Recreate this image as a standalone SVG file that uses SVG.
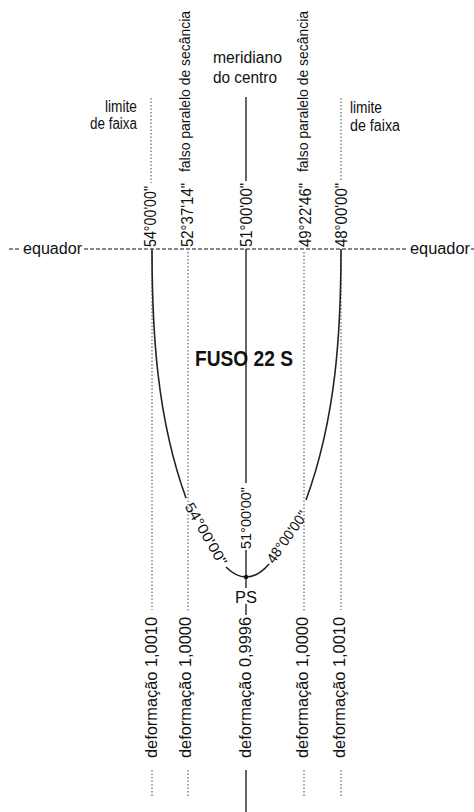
<svg xmlns="http://www.w3.org/2000/svg" width="474" height="812" viewBox="0 0 474 812">
<style>
text{font-family:"Liberation Sans",Arial,sans-serif;fill:#111}
.t{font-size:16px}
.v{font-size:16px}
.sm{font-size:14.5px}
.solid{stroke:#111;stroke-width:1.3;fill:none}
.dot{stroke:#444;stroke-width:1;stroke-dasharray:1.5 2;fill:none}
.dash{stroke:#111;stroke-width:1;stroke-dasharray:4 2;fill:none}
.curve{stroke:#222;stroke-width:1.6;fill:none}
</style>
<rect width="474" height="812" fill="#fff"/>
<g id="connectors">
  <line class="dash" x1="9" y1="249" x2="21" y2="249"/>
  <line class="dash" x1="84" y1="249" x2="407" y2="249"/>
  <line class="dash" x1="471" y1="249" x2="474" y2="249"/>
  <line class="dot" x1="151" y1="98" x2="151" y2="183"/>
  <line class="dot" x1="341" y1="98" x2="341" y2="180"/>
  <line class="solid" x1="246" y1="97" x2="246" y2="181"/>
  <line class="dot" x1="152" y1="252" x2="152" y2="610"/>
  <line class="dot" x1="188" y1="252" x2="188" y2="612"/>
  <line class="dot" x1="304" y1="252" x2="304" y2="612"/>
  <line class="dot" x1="341" y1="252" x2="341" y2="610"/>
  <line class="solid" x1="246" y1="249" x2="246" y2="483"/>
  <line class="solid" x1="246" y1="550" x2="246" y2="588"/>
  <line class="solid" x1="246" y1="604" x2="246" y2="615"/>
  <line class="dot" x1="152" y1="770" x2="152" y2="798"/>
  <line class="dot" x1="188" y1="770" x2="188" y2="798"/>
  <line class="dot" x1="304" y1="770" x2="304" y2="798"/>
  <line class="dot" x1="341" y1="770" x2="341" y2="798"/>
  <line class="solid" x1="246" y1="770" x2="246" y2="812"/>
  <path class="curve" d="M152,249 C152,330 156.6,417 186,498"/>
  <path class="curve" d="M226,567 Q236,577 246,577 Q258,577 269,564"/>
  <path class="curve" d="M341,249 C341,330 336.4,417 306,500"/>
  <circle cx="246" cy="577" r="2.2" fill="#111"/>
</g>
<g id="equador-left"><text class="t" x="23" y="254" textLength="59" lengthAdjust="spacingAndGlyphs">equador</text></g>
<g id="equador-right"><text class="t" x="410" y="254" textLength="60" lengthAdjust="spacingAndGlyphs">equador</text></g>
<g id="limite-left">
  <text class="t" x="137" y="112" text-anchor="end" textLength="32" lengthAdjust="spacingAndGlyphs">limite</text>
  <text class="t" x="137" y="129" text-anchor="end" textLength="47" lengthAdjust="spacingAndGlyphs">de faixa</text>
</g>
<g id="limite-right">
  <text class="t" x="350" y="113" textLength="32" lengthAdjust="spacingAndGlyphs">limite</text>
  <text class="t" x="350" y="131" textLength="50" lengthAdjust="spacingAndGlyphs">de faixa</text>
</g>
<g id="meridiano">
  <text class="t" x="213" y="63" textLength="69" lengthAdjust="spacingAndGlyphs">meridiano</text>
  <text class="t" x="213" y="83" textLength="64" lengthAdjust="spacingAndGlyphs">do centro</text>
</g>
<g id="secancia-left"><text class="sm" transform="translate(190,172) rotate(-90)" textLength="161" lengthAdjust="spacingAndGlyphs">falso paralelo de secância</text></g>
<g id="secancia-right"><text class="sm" transform="translate(308,172) rotate(-90)" textLength="161" lengthAdjust="spacingAndGlyphs">falso paralelo de secância</text></g>
<g id="lon-54"><text class="v" transform="translate(156,247) rotate(-90)" textLength="61" lengthAdjust="spacingAndGlyphs">54°00'00"</text></g>
<g id="lon-52"><text class="v" transform="translate(193,247) rotate(-90)" textLength="64" lengthAdjust="spacingAndGlyphs">52°37'14"</text></g>
<g id="lon-51"><text class="v" transform="translate(252,247) rotate(-90)" textLength="64" lengthAdjust="spacingAndGlyphs">51°00'00"</text></g>
<g id="lon-49"><text class="v" transform="translate(311,247) rotate(-90)" textLength="64" lengthAdjust="spacingAndGlyphs">49°22'46"</text></g>
<g id="lon-48"><text class="v" transform="translate(347,247) rotate(-90)" textLength="64" lengthAdjust="spacingAndGlyphs">48°00'00"</text></g>
<g id="fuso"><text x="195" y="366" font-size="22" font-weight="bold" textLength="98" lengthAdjust="spacingAndGlyphs">FUSO 22 S</text></g>
<g id="curve-label-54"><text class="sm" transform="translate(206,534) rotate(60)" text-anchor="middle" dy="5" textLength="70" lengthAdjust="spacingAndGlyphs">54°00'00"</text></g>
<g id="curve-label-51"><text class="sm" transform="translate(251,549) rotate(-90)" textLength="62" lengthAdjust="spacingAndGlyphs">51°00'00"</text></g>
<g id="curve-label-48"><text class="sm" transform="translate(287,537) rotate(-55)" text-anchor="middle" dy="5" textLength="60" lengthAdjust="spacingAndGlyphs">48°00'00"</text></g>
<g id="ps"><text class="t" x="246" y="603" text-anchor="middle" textLength="22" lengthAdjust="spacingAndGlyphs">PS</text></g>
<g id="def-1"><text class="v" transform="translate(157,758) rotate(-90)" textLength="141" lengthAdjust="spacingAndGlyphs">deformação 1,0010</text></g>
<g id="def-2"><text class="v" transform="translate(191,758) rotate(-90)" textLength="141" lengthAdjust="spacingAndGlyphs">deformação 1,0000</text></g>
<g id="def-3"><text class="v" transform="translate(251,758) rotate(-90)" textLength="141" lengthAdjust="spacingAndGlyphs">deformação 0,9996</text></g>
<g id="def-4"><text class="v" transform="translate(308,758) rotate(-90)" textLength="141" lengthAdjust="spacingAndGlyphs">deformação 1,0000</text></g>
<g id="def-5"><text class="v" transform="translate(345,758) rotate(-90)" textLength="141" lengthAdjust="spacingAndGlyphs">deformação 1,0010</text></g>
</svg>
